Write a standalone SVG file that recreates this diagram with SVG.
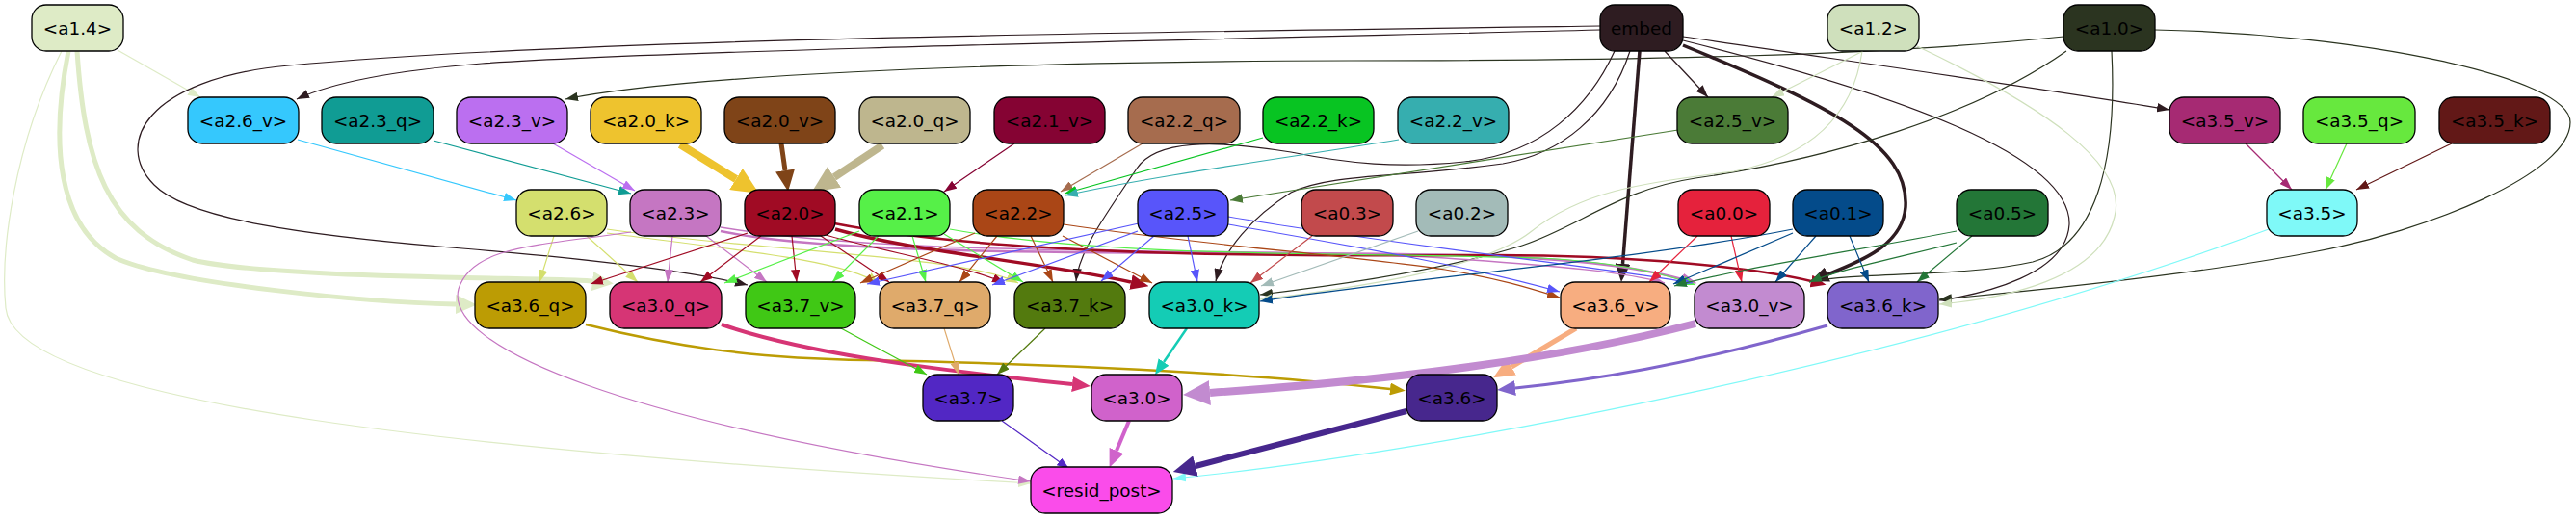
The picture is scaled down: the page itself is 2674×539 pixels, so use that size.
<svg xmlns="http://www.w3.org/2000/svg" width="2674" height="539" viewBox="0 0 2674 539">
<style>
.n rect{stroke:#000;stroke-width:1.3}
.n text{font-family:"DejaVu Sans","Liberation Sans",sans-serif;font-size:18.4px;fill:#000;text-anchor:middle}
#edges path{fill:none;stroke-width:1.2}
</style>
<defs>
<marker id="t-deebc6" viewBox="0 0 13 9.4" refX="13" refY="4.7" markerWidth="13" markerHeight="9.4" markerUnits="userSpaceOnUse" orient="auto"><path d="M0,0L13,4.7L0,9.4z" fill="#deebc6"/></marker>
<marker id="t-2e1c21" viewBox="0 0 13 9.4" refX="13" refY="4.7" markerWidth="13" markerHeight="9.4" markerUnits="userSpaceOnUse" orient="auto"><path d="M0,0L13,4.7L0,9.4z" fill="#2e1c21"/></marker>
<marker id="t-2b3420" viewBox="0 0 13 9.4" refX="13" refY="4.7" markerWidth="13" markerHeight="9.4" markerUnits="userSpaceOnUse" orient="auto"><path d="M0,0L13,4.7L0,9.4z" fill="#2b3420"/></marker>
<marker id="t-cfe0bc" viewBox="0 0 13 9.4" refX="13" refY="4.7" markerWidth="13" markerHeight="9.4" markerUnits="userSpaceOnUse" orient="auto"><path d="M0,0L13,4.7L0,9.4z" fill="#cfe0bc"/></marker>
<marker id="t-35c8fd" viewBox="0 0 13 9.4" refX="13" refY="4.7" markerWidth="13" markerHeight="9.4" markerUnits="userSpaceOnUse" orient="auto"><path d="M0,0L13,4.7L0,9.4z" fill="#35c8fd"/></marker>
<marker id="t-109c94" viewBox="0 0 13 9.4" refX="13" refY="4.7" markerWidth="13" markerHeight="9.4" markerUnits="userSpaceOnUse" orient="auto"><path d="M0,0L13,4.7L0,9.4z" fill="#109c94"/></marker>
<marker id="t-bb6ff0" viewBox="0 0 13 9.4" refX="13" refY="4.7" markerWidth="13" markerHeight="9.4" markerUnits="userSpaceOnUse" orient="auto"><path d="M0,0L13,4.7L0,9.4z" fill="#bb6ff0"/></marker>
<marker id="t-850333" viewBox="0 0 13 9.4" refX="13" refY="4.7" markerWidth="13" markerHeight="9.4" markerUnits="userSpaceOnUse" orient="auto"><path d="M0,0L13,4.7L0,9.4z" fill="#850333"/></marker>
<marker id="t-a66c4e" viewBox="0 0 13 9.4" refX="13" refY="4.7" markerWidth="13" markerHeight="9.4" markerUnits="userSpaceOnUse" orient="auto"><path d="M0,0L13,4.7L0,9.4z" fill="#a66c4e"/></marker>
<marker id="t-08c422" viewBox="0 0 13 9.4" refX="13" refY="4.7" markerWidth="13" markerHeight="9.4" markerUnits="userSpaceOnUse" orient="auto"><path d="M0,0L13,4.7L0,9.4z" fill="#08c422"/></marker>
<marker id="t-36aeaf" viewBox="0 0 13 9.4" refX="13" refY="4.7" markerWidth="13" markerHeight="9.4" markerUnits="userSpaceOnUse" orient="auto"><path d="M0,0L13,4.7L0,9.4z" fill="#36aeaf"/></marker>
<marker id="t-4b7b37" viewBox="0 0 13 9.4" refX="13" refY="4.7" markerWidth="13" markerHeight="9.4" markerUnits="userSpaceOnUse" orient="auto"><path d="M0,0L13,4.7L0,9.4z" fill="#4b7b37"/></marker>
<marker id="t-a62a73" viewBox="0 0 13 9.4" refX="13" refY="4.7" markerWidth="13" markerHeight="9.4" markerUnits="userSpaceOnUse" orient="auto"><path d="M0,0L13,4.7L0,9.4z" fill="#a62a73"/></marker>
<marker id="t-67e83e" viewBox="0 0 13 9.4" refX="13" refY="4.7" markerWidth="13" markerHeight="9.4" markerUnits="userSpaceOnUse" orient="auto"><path d="M0,0L13,4.7L0,9.4z" fill="#67e83e"/></marker>
<marker id="t-621817" viewBox="0 0 13 9.4" refX="13" refY="4.7" markerWidth="13" markerHeight="9.4" markerUnits="userSpaceOnUse" orient="auto"><path d="M0,0L13,4.7L0,9.4z" fill="#621817"/></marker>
<marker id="t-d4df6e" viewBox="0 0 13 9.4" refX="13" refY="4.7" markerWidth="13" markerHeight="9.4" markerUnits="userSpaceOnUse" orient="auto"><path d="M0,0L13,4.7L0,9.4z" fill="#d4df6e"/></marker>
<marker id="t-c576c2" viewBox="0 0 13 9.4" refX="13" refY="4.7" markerWidth="13" markerHeight="9.4" markerUnits="userSpaceOnUse" orient="auto"><path d="M0,0L13,4.7L0,9.4z" fill="#c576c2"/></marker>
<marker id="t-a00b24" viewBox="0 0 13 9.4" refX="13" refY="4.7" markerWidth="13" markerHeight="9.4" markerUnits="userSpaceOnUse" orient="auto"><path d="M0,0L13,4.7L0,9.4z" fill="#a00b24"/></marker>
<marker id="t-56f048" viewBox="0 0 13 9.4" refX="13" refY="4.7" markerWidth="13" markerHeight="9.4" markerUnits="userSpaceOnUse" orient="auto"><path d="M0,0L13,4.7L0,9.4z" fill="#56f048"/></marker>
<marker id="t-aa4616" viewBox="0 0 13 9.4" refX="13" refY="4.7" markerWidth="13" markerHeight="9.4" markerUnits="userSpaceOnUse" orient="auto"><path d="M0,0L13,4.7L0,9.4z" fill="#aa4616"/></marker>
<marker id="t-5855fa" viewBox="0 0 13 9.4" refX="13" refY="4.7" markerWidth="13" markerHeight="9.4" markerUnits="userSpaceOnUse" orient="auto"><path d="M0,0L13,4.7L0,9.4z" fill="#5855fa"/></marker>
<marker id="t-c24a4c" viewBox="0 0 13 9.4" refX="13" refY="4.7" markerWidth="13" markerHeight="9.4" markerUnits="userSpaceOnUse" orient="auto"><path d="M0,0L13,4.7L0,9.4z" fill="#c24a4c"/></marker>
<marker id="t-a3bbb8" viewBox="0 0 13 9.4" refX="13" refY="4.7" markerWidth="13" markerHeight="9.4" markerUnits="userSpaceOnUse" orient="auto"><path d="M0,0L13,4.7L0,9.4z" fill="#a3bbb8"/></marker>
<marker id="t-e5223c" viewBox="0 0 13 9.4" refX="13" refY="4.7" markerWidth="13" markerHeight="9.4" markerUnits="userSpaceOnUse" orient="auto"><path d="M0,0L13,4.7L0,9.4z" fill="#e5223c"/></marker>
<marker id="t-044b8a" viewBox="0 0 13 9.4" refX="13" refY="4.7" markerWidth="13" markerHeight="9.4" markerUnits="userSpaceOnUse" orient="auto"><path d="M0,0L13,4.7L0,9.4z" fill="#044b8a"/></marker>
<marker id="t-237637" viewBox="0 0 13 9.4" refX="13" refY="4.7" markerWidth="13" markerHeight="9.4" markerUnits="userSpaceOnUse" orient="auto"><path d="M0,0L13,4.7L0,9.4z" fill="#237637"/></marker>
<marker id="t-7ff9f8" viewBox="0 0 13 9.4" refX="13" refY="4.7" markerWidth="13" markerHeight="9.4" markerUnits="userSpaceOnUse" orient="auto"><path d="M0,0L13,4.7L0,9.4z" fill="#7ff9f8"/></marker>
<marker id="t-40c815" viewBox="0 0 13 9.4" refX="13" refY="4.7" markerWidth="13" markerHeight="9.4" markerUnits="userSpaceOnUse" orient="auto"><path d="M0,0L13,4.7L0,9.4z" fill="#40c815"/></marker>
<marker id="t-dfaa6b" viewBox="0 0 13 9.4" refX="13" refY="4.7" markerWidth="13" markerHeight="9.4" markerUnits="userSpaceOnUse" orient="auto"><path d="M0,0L13,4.7L0,9.4z" fill="#dfaa6b"/></marker>
<marker id="t-537a0e" viewBox="0 0 13 9.4" refX="13" refY="4.7" markerWidth="13" markerHeight="9.4" markerUnits="userSpaceOnUse" orient="auto"><path d="M0,0L13,4.7L0,9.4z" fill="#537a0e"/></marker>
<marker id="t-5227c4" viewBox="0 0 13 9.4" refX="13" refY="4.7" markerWidth="13" markerHeight="9.4" markerUnits="userSpaceOnUse" orient="auto"><path d="M0,0L13,4.7L0,9.4z" fill="#5227c4"/></marker>
<marker id="m5-deebc6" viewBox="0 0 22 20" refX="0" refY="10" markerWidth="22" markerHeight="20" markerUnits="userSpaceOnUse" orient="auto"><path d="M0,0L22,10L0,20z" fill="#deebc6"/></marker>
<marker id="m3-2e1c21" viewBox="0 0 19 16" refX="0" refY="8" markerWidth="19" markerHeight="16" markerUnits="userSpaceOnUse" orient="auto"><path d="M0,0L19,8L0,16z" fill="#2e1c21"/></marker>
<marker id="m8-eec32e" viewBox="0 0 28 26" refX="0" refY="13" markerWidth="28" markerHeight="26" markerUnits="userSpaceOnUse" orient="auto"><path d="M0,0L28,13L0,26z" fill="#eec32e"/></marker>
<marker id="m5-7f4418" viewBox="0 0 22 20" refX="0" refY="10" markerWidth="22" markerHeight="20" markerUnits="userSpaceOnUse" orient="auto"><path d="M0,0L22,10L0,20z" fill="#7f4418"/></marker>
<marker id="m8-beb68e" viewBox="0 0 28 26" refX="0" refY="13" markerWidth="28" markerHeight="26" markerUnits="userSpaceOnUse" orient="auto"><path d="M0,0L28,13L0,26z" fill="#beb68e"/></marker>
<marker id="m2-c576c2" viewBox="0 0 16 13" refX="0" refY="6.5" markerWidth="16" markerHeight="13" markerUnits="userSpaceOnUse" orient="auto"><path d="M0,0L16,6.5L0,13z" fill="#c576c2"/></marker>
<marker id="m3-a00b24" viewBox="0 0 19 16" refX="0" refY="8" markerWidth="19" markerHeight="16" markerUnits="userSpaceOnUse" orient="auto"><path d="M0,0L19,8L0,16z" fill="#a00b24"/></marker>
<marker id="m2-a00b24" viewBox="0 0 16 13" refX="0" refY="6.5" markerWidth="16" markerHeight="13" markerUnits="userSpaceOnUse" orient="auto"><path d="M0,0L16,6.5L0,13z" fill="#a00b24"/></marker>
<marker id="m2-bc9c04" viewBox="0 0 16 13" refX="0" refY="6.5" markerWidth="16" markerHeight="13" markerUnits="userSpaceOnUse" orient="auto"><path d="M0,0L16,6.5L0,13z" fill="#bc9c04"/></marker>
<marker id="m3-d63575" viewBox="0 0 19 16" refX="0" refY="8" markerWidth="19" markerHeight="16" markerUnits="userSpaceOnUse" orient="auto"><path d="M0,0L19,8L0,16z" fill="#d63575"/></marker>
<marker id="m2-14ccb5" viewBox="0 0 16 13" refX="0" refY="6.5" markerWidth="16" markerHeight="13" markerUnits="userSpaceOnUse" orient="auto"><path d="M0,0L16,6.5L0,13z" fill="#14ccb5"/></marker>
<marker id="m5-f7ad80" viewBox="0 0 22 20" refX="0" refY="10" markerWidth="22" markerHeight="20" markerUnits="userSpaceOnUse" orient="auto"><path d="M0,0L22,10L0,20z" fill="#f7ad80"/></marker>
<marker id="m8-c28bd0" viewBox="0 0 28 26" refX="0" refY="13" markerWidth="28" markerHeight="26" markerUnits="userSpaceOnUse" orient="auto"><path d="M0,0L28,13L0,26z" fill="#c28bd0"/></marker>
<marker id="m3-8065cc" viewBox="0 0 19 16" refX="0" refY="8" markerWidth="19" markerHeight="16" markerUnits="userSpaceOnUse" orient="auto"><path d="M0,0L19,8L0,16z" fill="#8065cc"/></marker>
<marker id="m3-d062cb" viewBox="0 0 19 16" refX="0" refY="8" markerWidth="19" markerHeight="16" markerUnits="userSpaceOnUse" orient="auto"><path d="M0,0L19,8L0,16z" fill="#d062cb"/></marker>
<marker id="m6-47278d" viewBox="0 0 24 22" refX="0" refY="11" markerWidth="24" markerHeight="22" markerUnits="userSpaceOnUse" orient="auto"><path d="M0,0L24,11L0,22z" fill="#47278d"/></marker>
</defs>
<g id="edges">
<path d="M122,52 L208,101" stroke="#deebc6" marker-end="url(#t-deebc6)"/>
<path d="M71,53 C52,150 60,235 120,268 C180,295 380,314 473,316" stroke="#deebc6" style="stroke-width:5" marker-end="url(#m5-deebc6)"/>
<path d="M80,53 C88,170 110,240 200,270 C280,290 580,288 615,292" stroke="#deebc6" style="stroke-width:5" marker-end="url(#m5-deebc6)"/>
<path d="M64,53 C15,150 0,260 6,320 C15,420 500,470 1070,502" stroke="#deebc6" marker-end="url(#t-deebc6)"/>
<path d="M1661,31 C1300,40 700,52 500,66 C400,74 340,88 308,103" stroke="#2e1c21" marker-end="url(#t-2e1c21)"/>
<path d="M2142,38 C1950,58 1700,63 1400,63 C1000,64 700,80 587,103" stroke="#2b3420" marker-end="url(#t-2b3420)"/>
<path d="M1661,27 C1200,33 600,40 300,68 C150,82 118,150 160,192 C195,228 320,245 480,258 C600,268 710,280 776,296" stroke="#2e1c21" marker-end="url(#t-2e1c21)"/>
<path d="M1728,53 L1773,101" stroke="#2e1c21" marker-end="url(#t-2e1c21)"/>
<path d="M1702,53 L1684.5,274" stroke="#2e1c21" style="stroke-width:3.5" marker-end="url(#m3-2e1c21)"/>
<path d="M1747,47 C1900,110 1982,150 1978,215 C1975,255 1930,272 1897,285" stroke="#2e1c21" style="stroke-width:3.5" marker-end="url(#m3-2e1c21)"/>
<path d="M1676,53 C1650,110 1600,160 1520,168 C1450,175 1400,170 1340,158 C1260,145 1200,145 1180,175 C1150,220 1120,260 1117,292" stroke="#2e1c21" marker-end="url(#t-2e1c21)"/>
<path d="M1692,53 C1670,120 1620,160 1560,170 C1450,185 1380,180 1340,200 C1300,225 1270,260 1262,292" stroke="#2e1c21" marker-end="url(#t-2e1c21)"/>
<path d="M1747,38 C1950,68 2150,96 2252,114" stroke="#2e1c21" marker-end="url(#t-2e1c21)"/>
<path d="M1747,42 C1960,95 2150,160 2148,233 C2145,285 2060,305 2013,312" stroke="#2e1c21" marker-end="url(#t-2e1c21)"/>
<path d="M2192,53 C2198,170 2175,255 2110,272 C2040,288 1930,282 1878,293" stroke="#2b3420" marker-end="url(#t-2b3420)"/>
<path d="M2145,53 C2050,120 1900,165 1760,185 C1680,197 1640,235 1580,255 C1500,280 1400,295 1308,306" stroke="#2b3420" marker-end="url(#t-2b3420)"/>
<path d="M2237,31 C2450,35 2668,80 2668,127 C2668,180 2520,240 2400,262 C2280,285 2100,303 2013,311" stroke="#2b3420" marker-end="url(#t-2b3420)"/>
<path d="M1934,53 L1839,101" stroke="#cfe0bc" marker-end="url(#t-cfe0bc)"/>
<path d="M1933,53 C1925,110 1890,160 1800,178 C1700,190 1640,200 1590,240 C1540,280 1400,300 1308,311" stroke="#cfe0bc" marker-end="url(#t-cfe0bc)"/>
<path d="M1990,48 C2120,110 2210,170 2195,225 C2180,290 2080,310 2013,316" stroke="#cfe0bc" marker-end="url(#t-cfe0bc)"/>
<path d="M309,145 L536,208" stroke="#35c8fd" marker-end="url(#t-35c8fd)"/>
<path d="M450,146 L655,201" stroke="#109c94" marker-end="url(#t-109c94)"/>
<path d="M574,149 L659,198" stroke="#bb6ff0" marker-end="url(#t-bb6ff0)"/>
<path d="M706,150 L764,186" stroke="#eec32e" style="stroke-width:8" marker-end="url(#m8-eec32e)"/>
<path d="M811,149 L815,177" stroke="#7f4418" style="stroke-width:5" marker-end="url(#m5-7f4418)"/>
<path d="M916,151 L866,184" stroke="#beb68e" style="stroke-width:8" marker-end="url(#m8-beb68e)"/>
<path d="M1053,149 L980,199" stroke="#850333" marker-end="url(#t-850333)"/>
<path d="M1186,149 L1101,199" stroke="#a66c4e" marker-end="url(#t-a66c4e)"/>
<path d="M1311,143 L1105,201" stroke="#08c422" marker-end="url(#t-08c422)"/>
<path d="M1452,145 C1350,162 1200,182 1106,203" stroke="#36aeaf" marker-end="url(#t-36aeaf)"/>
<path d="M1742,135 L1277,208" stroke="#4b7b37" marker-end="url(#t-4b7b37)"/>
<path d="M2331,149 L2379,197" stroke="#a62a73" marker-end="url(#t-a62a73)"/>
<path d="M2436,149 L2414,197" stroke="#67e83e" marker-end="url(#t-67e83e)"/>
<path d="M2545,149 L2446,197" stroke="#621817" marker-end="url(#t-621817)"/>
<path d="M575,245 L560,293" stroke="#d4df6e" marker-end="url(#t-d4df6e)"/>
<path d="M609,245 L662,293" stroke="#d4df6e" marker-end="url(#t-d4df6e)"/>
<path d="M630,242 C750,258 880,270 912,295" stroke="#d4df6e" marker-end="url(#t-d4df6e)"/>
<path d="M630,238 C800,262 1000,265 1057,294" stroke="#d4df6e" marker-end="url(#t-d4df6e)"/>
<path d="M698,245 L693,293" stroke="#c576c2" marker-end="url(#t-c576c2)"/>
<path d="M733,245 L796,293" stroke="#c576c2" marker-end="url(#t-c576c2)"/>
<path d="M748,236 C950,270 1300,255 1500,268 C1620,276 1690,283 1728,294" stroke="#c576c2" style="stroke-width:1.5" marker-end="url(#t-c576c2)"/>
<path d="M748,240 C900,272 1300,258 1550,266 C1650,270 1710,280 1746,290" stroke="#c576c2" style="stroke-width:2.5" marker-end="url(#m2-c576c2)"/>
<path d="M776,242 L613,295" stroke="#a00b24" marker-end="url(#t-a00b24)"/>
<path d="M790,245 L727,293" stroke="#a00b24" marker-end="url(#t-a00b24)"/>
<path d="M822,245 L827,293" stroke="#a00b24" marker-end="url(#t-a00b24)"/>
<path d="M852,245 L923,293" stroke="#a00b24" marker-end="url(#t-a00b24)"/>
<path d="M857,244 C920,262 1000,275 1043,294" stroke="#a00b24" marker-end="url(#t-a00b24)"/>
<path d="M867,238 C950,262 1080,272 1174,293" stroke="#a00b24" style="stroke-width:3.5" marker-end="url(#m3-a00b24)"/>
<path d="M866,232 C1050,268 1350,266 1550,265 C1700,265 1820,278 1880,292" stroke="#a00b24" style="stroke-width:2.5" marker-end="url(#m2-a00b24)"/>
<path d="M892,240 L752,294" stroke="#56f048" marker-end="url(#t-56f048)"/>
<path d="M912,245 L864,293" stroke="#56f048" marker-end="url(#t-56f048)"/>
<path d="M947,245 L961,293" stroke="#56f048" marker-end="url(#t-56f048)"/>
<path d="M980,243 L1062,293" stroke="#56f048" marker-end="url(#t-56f048)"/>
<path d="M986,238 C1150,268 1400,262 1600,268 C1680,272 1730,285 1760,296" stroke="#56f048" marker-end="url(#t-56f048)"/>
<path d="M1012,242 L893,294" stroke="#aa4616" marker-end="url(#t-aa4616)"/>
<path d="M1035,245 L996,293" stroke="#aa4616" marker-end="url(#t-aa4616)"/>
<path d="M1070,245 L1093,293" stroke="#aa4616" marker-end="url(#t-aa4616)"/>
<path d="M1103,245 L1196,294" stroke="#aa4616" marker-end="url(#t-aa4616)"/>
<path d="M1104,233 C1250,255 1400,265 1500,280 C1560,290 1590,300 1619,309" stroke="#aa4616" marker-end="url(#t-aa4616)"/>
<path d="M1182,232 L900,295" stroke="#5855fa" marker-end="url(#t-5855fa)"/>
<path d="M1181,240 L1030,296" stroke="#5855fa" marker-end="url(#t-5855fa)"/>
<path d="M1198,245 L1143,292" stroke="#5855fa" marker-end="url(#t-5855fa)"/>
<path d="M1233,245 L1243,293" stroke="#5855fa" marker-end="url(#t-5855fa)"/>
<path d="M1275,233 C1400,255 1520,275 1619,303" stroke="#5855fa" marker-end="url(#t-5855fa)"/>
<path d="M1275,225 C1450,255 1650,275 1757,294" stroke="#5855fa" marker-end="url(#t-5855fa)"/>
<path d="M1362,245 L1298,294" stroke="#c24a4c" marker-end="url(#t-c24a4c)"/>
<path d="M1472,240 L1309,297" stroke="#a3bbb8" marker-end="url(#t-a3bbb8)"/>
<path d="M1762,245 L1712,293" stroke="#e5223c" marker-end="url(#t-e5223c)"/>
<path d="M1797,245 L1808,293" stroke="#e5223c" marker-end="url(#t-e5223c)"/>
<path d="M1861,242 L1737,295" stroke="#044b8a" marker-end="url(#t-044b8a)"/>
<path d="M1885,245 L1843,293" stroke="#044b8a" marker-end="url(#t-044b8a)"/>
<path d="M1920,245 L1940,293" stroke="#044b8a" marker-end="url(#t-044b8a)"/>
<path d="M1861,238 C1700,270 1450,290 1308,313" stroke="#044b8a" marker-end="url(#t-044b8a)"/>
<path d="M2031,240 C1900,265 1800,280 1738,297" stroke="#237637" marker-end="url(#t-237637)"/>
<path d="M2031,252 C1960,270 1910,280 1878,293" stroke="#237637" marker-end="url(#t-237637)"/>
<path d="M2047,245 L1990,293" stroke="#237637" marker-end="url(#t-237637)"/>
<path d="M2355,238 C2000,370 1500,470 1218,497" stroke="#7ff9f8" marker-end="url(#t-7ff9f8)"/>
<path d="M608,337 C700,360 780,372 900,374 C1100,378 1300,388 1443,404" stroke="#bc9c04" style="stroke-width:2.5" marker-end="url(#m2-bc9c04)"/>
<path d="M749,337 C830,365 950,382 1113,399" stroke="#d63575" style="stroke-width:4" marker-end="url(#m3-d63575)"/>
<path d="M873,341 L962,389" stroke="#40c815" marker-end="url(#t-40c815)"/>
<path d="M980,341 L995,389" stroke="#dfaa6b" marker-end="url(#t-dfaa6b)"/>
<path d="M1085,341 L1035,389" stroke="#537a0e" marker-end="url(#t-537a0e)"/>
<path d="M1232,341 L1208,376" stroke="#14ccb5" style="stroke-width:2.5" marker-end="url(#m2-14ccb5)"/>
<path d="M1636,341 L1569,381" stroke="#f7ad80" style="stroke-width:5" marker-end="url(#m5-f7ad80)"/>
<path d="M1760,336 C1600,378 1400,398 1256,408" stroke="#c28bd0" style="stroke-width:8" marker-end="url(#m8-c28bd0)"/>
<path d="M1897,338 C1750,380 1650,395 1573,403" stroke="#8065cc" style="stroke-width:3" marker-end="url(#m3-8065cc)"/>
<path d="M1040,437 L1110,487" stroke="#5227c4" marker-end="url(#t-5227c4)"/>
<path d="M1172,437 L1159,468" stroke="#d062cb" style="stroke-width:4" marker-end="url(#m3-d062cb)"/>
<path d="M1460,427 L1241,484" stroke="#47278d" style="stroke-width:6" marker-end="url(#m6-47278d)"/>
<path d="M655,241 C560,255 490,255 476,300 C460,360 650,440 1070,500" stroke="#c576c2" marker-end="url(#t-c576c2)"/>
</g>
<g id="n-a1_4" class="n"><rect x="33" y="5" width="95" height="48" rx="15" fill="#deebc6"/><text x="80.5" y="35.5">&lt;a1.4&gt;</text></g>
<g id="n-embed" class="n"><rect x="1661" y="5" width="86" height="48" rx="15" fill="#2e1c21"/><text x="1704" y="35.5">embed</text></g>
<g id="n-a1_2" class="n"><rect x="1897" y="5" width="95" height="48" rx="15" fill="#cfe0bc"/><text x="1944.5" y="35.5">&lt;a1.2&gt;</text></g>
<g id="n-a1_0" class="n"><rect x="2142" y="5" width="95" height="48" rx="15" fill="#2b3420"/><text x="2189.5" y="35.5">&lt;a1.0&gt;</text></g>
<g id="n-a2_6_v" class="n"><rect x="195" y="101" width="115" height="48" rx="15" fill="#35c8fd"/><text x="252.5" y="131.5">&lt;a2.6_v&gt;</text></g>
<g id="n-a2_3_q" class="n"><rect x="334" y="101" width="116" height="48" rx="15" fill="#109c94"/><text x="392" y="131.5">&lt;a2.3_q&gt;</text></g>
<g id="n-a2_3_v" class="n"><rect x="474" y="101" width="115" height="48" rx="15" fill="#bb6ff0"/><text x="531.5" y="131.5">&lt;a2.3_v&gt;</text></g>
<g id="n-a2_0_k" class="n"><rect x="613" y="101" width="115" height="48" rx="15" fill="#eec32e"/><text x="670.5" y="131.5">&lt;a2.0_k&gt;</text></g>
<g id="n-a2_0_v" class="n"><rect x="752" y="101" width="115" height="48" rx="15" fill="#7f4418"/><text x="809.5" y="131.5">&lt;a2.0_v&gt;</text></g>
<g id="n-a2_0_q" class="n"><rect x="892" y="101" width="115" height="48" rx="15" fill="#beb68e"/><text x="949.5" y="131.5">&lt;a2.0_q&gt;</text></g>
<g id="n-a2_1_v" class="n"><rect x="1032" y="101" width="115" height="48" rx="15" fill="#850333"/><text x="1089.5" y="131.5">&lt;a2.1_v&gt;</text></g>
<g id="n-a2_2_q" class="n"><rect x="1171" y="101" width="116" height="48" rx="15" fill="#a66c4e"/><text x="1229" y="131.5">&lt;a2.2_q&gt;</text></g>
<g id="n-a2_2_k" class="n"><rect x="1311" y="101" width="115" height="48" rx="15" fill="#08c422"/><text x="1368.5" y="131.5">&lt;a2.2_k&gt;</text></g>
<g id="n-a2_2_v" class="n"><rect x="1451" y="101" width="115" height="48" rx="15" fill="#36aeaf"/><text x="1508.5" y="131.5">&lt;a2.2_v&gt;</text></g>
<g id="n-a2_5_v" class="n"><rect x="1741" y="101" width="115" height="48" rx="15" fill="#4b7b37"/><text x="1798.5" y="131.5">&lt;a2.5_v&gt;</text></g>
<g id="n-a3_5_v" class="n"><rect x="2252" y="101" width="115" height="48" rx="15" fill="#a62a73"/><text x="2309.5" y="131.5">&lt;a3.5_v&gt;</text></g>
<g id="n-a3_5_q" class="n"><rect x="2391" y="101" width="116" height="48" rx="15" fill="#67e83e"/><text x="2449" y="131.5">&lt;a3.5_q&gt;</text></g>
<g id="n-a3_5_k" class="n"><rect x="2532" y="101" width="115" height="48" rx="15" fill="#621817"/><text x="2589.5" y="131.5">&lt;a3.5_k&gt;</text></g>
<g id="n-a2_6" class="n"><rect x="536" y="197" width="94" height="48" rx="15" fill="#d4df6e"/><text x="583" y="227.5">&lt;a2.6&gt;</text></g>
<g id="n-a2_3" class="n"><rect x="654" y="197" width="94" height="48" rx="15" fill="#c576c2"/><text x="701" y="227.5">&lt;a2.3&gt;</text></g>
<g id="n-a2_0" class="n"><rect x="773" y="197" width="94" height="48" rx="15" fill="#a00b24"/><text x="820" y="227.5">&lt;a2.0&gt;</text></g>
<g id="n-a2_1" class="n"><rect x="892" y="197" width="94" height="48" rx="15" fill="#56f048"/><text x="939" y="227.5">&lt;a2.1&gt;</text></g>
<g id="n-a2_2" class="n"><rect x="1010" y="197" width="94" height="48" rx="15" fill="#aa4616"/><text x="1057" y="227.5">&lt;a2.2&gt;</text></g>
<g id="n-a2_5" class="n"><rect x="1181" y="197" width="94" height="48" rx="15" fill="#5855fa"/><text x="1228" y="227.5">&lt;a2.5&gt;</text></g>
<g id="n-a0_3" class="n"><rect x="1351" y="197" width="95" height="48" rx="15" fill="#c24a4c"/><text x="1398.5" y="227.5">&lt;a0.3&gt;</text></g>
<g id="n-a0_2" class="n"><rect x="1470" y="197" width="95" height="48" rx="15" fill="#a3bbb8"/><text x="1517.5" y="227.5">&lt;a0.2&gt;</text></g>
<g id="n-a0_0" class="n"><rect x="1742" y="197" width="95" height="48" rx="15" fill="#e5223c"/><text x="1789.5" y="227.5">&lt;a0.0&gt;</text></g>
<g id="n-a0_1" class="n"><rect x="1861" y="197" width="94" height="48" rx="15" fill="#044b8a"/><text x="1908" y="227.5">&lt;a0.1&gt;</text></g>
<g id="n-a0_5" class="n"><rect x="2031" y="197" width="95" height="48" rx="15" fill="#237637"/><text x="2078.5" y="227.5">&lt;a0.5&gt;</text></g>
<g id="n-a3_5" class="n"><rect x="2353" y="197" width="94" height="48" rx="15" fill="#7ff9f8"/><text x="2400" y="227.5">&lt;a3.5&gt;</text></g>
<g id="n-a3_6_q" class="n"><rect x="493" y="293" width="115" height="48" rx="15" fill="#bc9c04"/><text x="550.5" y="323.5">&lt;a3.6_q&gt;</text></g>
<g id="n-a3_0_q" class="n"><rect x="633" y="293" width="116" height="48" rx="15" fill="#d63575"/><text x="691" y="323.5">&lt;a3.0_q&gt;</text></g>
<g id="n-a3_7_v" class="n"><rect x="774" y="293" width="114" height="48" rx="15" fill="#40c815"/><text x="831" y="323.5">&lt;a3.7_v&gt;</text></g>
<g id="n-a3_7_q" class="n"><rect x="913" y="293" width="115" height="48" rx="15" fill="#dfaa6b"/><text x="970.5" y="323.5">&lt;a3.7_q&gt;</text></g>
<g id="n-a3_7_k" class="n"><rect x="1053" y="293" width="115" height="48" rx="15" fill="#537a0e"/><text x="1110.5" y="323.5">&lt;a3.7_k&gt;</text></g>
<g id="n-a3_0_k" class="n"><rect x="1193" y="293" width="114" height="48" rx="15" fill="#14ccb5"/><text x="1250" y="323.5">&lt;a3.0_k&gt;</text></g>
<g id="n-a3_6_v" class="n"><rect x="1620" y="293" width="114" height="48" rx="15" fill="#f7ad80"/><text x="1677" y="323.5">&lt;a3.6_v&gt;</text></g>
<g id="n-a3_0_v" class="n"><rect x="1759" y="293" width="114" height="48" rx="15" fill="#c28bd0"/><text x="1816" y="323.5">&lt;a3.0_v&gt;</text></g>
<g id="n-a3_6_k" class="n"><rect x="1897" y="293" width="115" height="48" rx="15" fill="#8065cc"/><text x="1954.5" y="323.5">&lt;a3.6_k&gt;</text></g>
<g id="n-a3_7" class="n"><rect x="958" y="389" width="94" height="48" rx="15" fill="#5227c4"/><text x="1005" y="419.5">&lt;a3.7&gt;</text></g>
<g id="n-a3_0" class="n"><rect x="1133" y="389" width="94" height="48" rx="15" fill="#d062cb"/><text x="1180" y="419.5">&lt;a3.0&gt;</text></g>
<g id="n-a3_6" class="n"><rect x="1460" y="389" width="94" height="48" rx="15" fill="#47278d"/><text x="1507" y="419.5">&lt;a3.6&gt;</text></g>
<g id="n-resid_post" class="n"><rect x="1070" y="485" width="147" height="48" rx="15" fill="#fa4cea"/><text x="1143.5" y="515.5">&lt;resid_post&gt;</text></g>
</svg>
